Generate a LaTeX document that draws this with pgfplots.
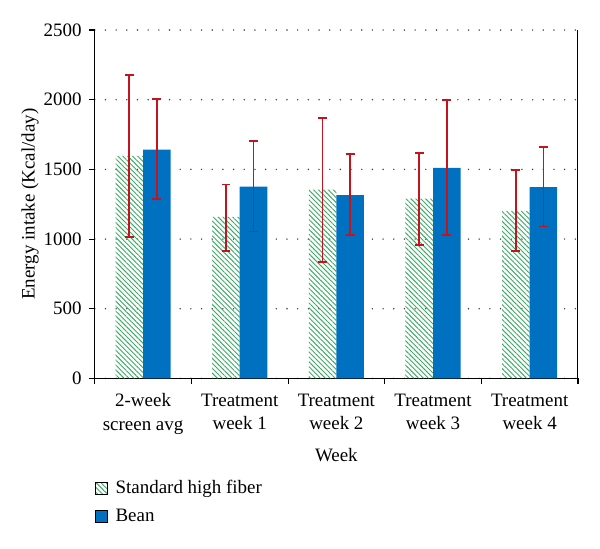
\documentclass[border=0pt]{standalone}
\usepackage{fontspec}
\setmainfont{Liberation Serif}
\usepackage{pgfplots}
\pgfplotsset{compat=1.18}
\usetikzlibrary{patterns.meta}
\definecolor{BeanBlue}{RGB}{0,112,192}
\definecolor{FiberGreen}{RGB}{60,170,100}
\definecolor{ErrRed}{RGB}{195,20,30}
\begin{document}
\fontsize{14.2}{17.5}\selectfont
\begin{tikzpicture}
\begin{axis}[
    name=ax,
    width=362pt, height=261pt,
    scale only axis,
    ybar, bar width=0.285,
    xmin=-0.5, xmax=4.5,
    ymin=0, ymax=2500,
    ytick={0,500,...,2500},
    xtick={0,...,4},
    xticklabels={{2-week\\screen avg},{Treatment\\week 1},{Treatment\\week 2},{Treatment\\week 3},{Treatment\\week 4}},
    xticklabel style={align=center, yshift=-2.5pt},
    yticklabel style={xshift=-1pt},
    minor xtick={-0.5,0.5,...,4.5},
    major x tick style={draw=none},
    minor tick length=4pt,
    major tick length=4pt,
    tick align=outside,
    axis x line*=bottom, axis y line*=left,
    axis line style={-, black, line width=1pt},
    tick style={black, line width=0.8pt},
    ymajorgrids,
    grid style={black!75, line width=1.2pt, dash pattern=on 0pt off 8pt, line cap=round},
    xlabel={Week}, ylabel={Energy intake (Kcal/day)},
    xlabel style={yshift=-1pt},
    ylabel style={yshift=-6pt},
    /pgf/number format/assume math mode=true,
    /pgf/number format/1000 sep={},
    legend style={draw=none, fill=none, at={(rel axis cs:0,-0.285)}, anchor=north west, legend cell align=left, row sep=5pt, inner sep=0pt},
    legend image code/.code={\draw[#1] (0pt,-4.5pt) rectangle (9pt,4.5pt);},
]
\addplot[draw=none, pattern={Lines[angle=-45, distance=2.6pt, line width=0.7pt]}, pattern color=FiberGreen, bar shift=-0.1425,
    error bars/.cd, y dir=both, y explicit,
    error bar style={draw=ErrRed, line width=1.3pt},
    error mark options={rotate=90, draw=ErrRed, mark size=3.3pt, line width=1.3pt}]
coordinates {
 (0,1597) += (0,582) -= (0,584)
 (1,1159) += (0,232) -= (0,246)
 (2,1355) += (0,513) -= (0,519)
 (3,1291) += (0,328) -= (0,333)
 (4,1202) += (0,295) -= (0,290)
};
\addlegendentry{\hspace{4pt}Standard high fiber}
\addplot[draw=none, fill=BeanBlue, bar shift=0.1425,
    error bars/.cd, y dir=both, y explicit,
    error bar style={draw=ErrRed, line width=1.3pt},
    error mark options={rotate=90, draw=ErrRed, mark size=3.3pt, line width=1.3pt}]
coordinates {
 (0,1642) += (0,365) -= (0,354)
 (1,1377) += (0,326) -= (0,323)
 (2,1316) += (0,293) -= (0,289)
 (3,1511) += (0,486) -= (0,484)
 (4,1372) += (0,290) -= (0,282)
};
\addlegendentry{\hspace{4pt}Bean}
\draw[black, line width=1pt] (rel axis cs:1,0) -- (rel axis cs:1,1);
\end{axis}
\path (ax.south west) ++(-71pt,-127.5pt);
\path (ax.north east) ++(16.5pt,22.5pt);
\end{tikzpicture}
\end{document}
